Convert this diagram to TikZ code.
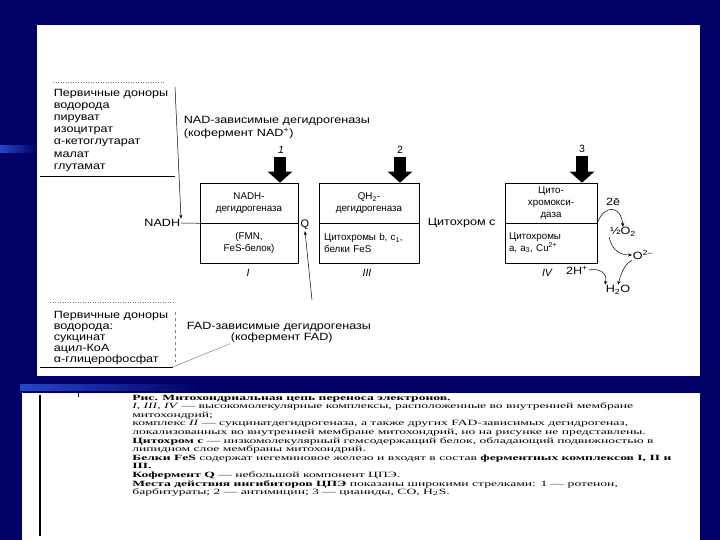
\documentclass[tikz,border=0pt]{standalone}
\usepackage{fontspec}
\usepackage{graphicx}
\setmainfont{Liberation Serif}
\newfontfamily\diagfont{Liberation Sans}
\usetikzlibrary{arrows.meta}
\definecolor{navybg}{RGB}{0,0,104}
\definecolor{streak}{RGB}{40,70,200}
\begin{document}
\begin{tikzpicture}[x=1pt,y=-1pt,
  lbl/.style={font=\diagfont\fontsize{10.5}{12}\selectfont, inner sep=0.5pt, xscale=1.2},
  lst/.style={lbl, anchor=base west},
  boxpart/.style={draw, line width=0.6pt, font=\diagfont\fontsize{9.8}{11.5}\selectfont, align=center, minimum height=40pt, inner sep=2pt},
  romanlbl/.style={font=\diagfont\itshape\fontsize{10.5}{12}\selectfont, inner sep=0.5pt},
  inhib/.style={line width=12pt, -{Triangle[width=24pt,length=11pt]}},
  thinln/.style={line width=0.5pt},
  earrow/.style={line width=0.5pt, -{Stealth[length=4pt,width=3.2pt]}},
  captext/.style={anchor=base west, font=\fontsize{8}{8}\selectfont, inner sep=0pt, xscale=1.7}
]
\useasboundingbox (0,0) rectangle (720,540);
\fill[navybg] (0,0) rectangle (720,540);
\shade[left color=streak, right color=navybg] (0,146) rectangle (37,153);
\shade[left color=streak, right color=navybg] (20,384) rectangle (200,390);
\fill[white] (37,25) rectangle (700,376);
\fill[white] (22,393) rectangle (700,540);

% ---------- upper donor list ----------
\draw[gray, dotted, thinln] (53,82) -- (165,82);
\foreach \t [count=\i] in {Первичные доноры, водорода, пируват, изоцитрат, α-кетоглутарат, малат, глутамат}
  \node[lst] (top\i) at (53,84+12.2*\i) {\t};
\draw[thinln] (40,176) -- (175,176);
\coordinate (topv) at (175,87);

\node[lbl, anchor=west] (nad1) at (183,121) {NAD-зависимые дегидрогеназы};
\node[lbl, anchor=west] (nad2) at (183,133) {(кофермент NAD\textsuperscript{+})};

% ---------- chain ----------
\node[lbl, anchor=east] (nadh) at (181,223) {NADH};

\node[boxpart, minimum width=98pt] (b1t) at (249,203) {NADH-\\дегидрогеназа};
\node[boxpart, minimum width=98pt] (b1b) at (249,243) {(FMN,\\FeS-белок)};
\node[romanlbl] (r1) at (248,273) {I};

\node[font=\diagfont\fontsize{11}{13}\selectfont, inner sep=1pt] (q) at (305,225) {Q};

\node[boxpart, minimum width=100pt] (b3t) at (369,203) {QH\textsubscript{2}-\\дегидрогеназа};
\node[boxpart, minimum width=100pt, text width=90pt, align=left] (b3b) at (369,243) {Цитохромы b, c\textsubscript{1},\\белки FeS};
\node[romanlbl] (r3) at (367,273) {III};

\node[lbl, anchor=west] (cytc) at (427,223) {Цитохром c};

\node[boxpart, minimum width=92pt, font=\diagfont\fontsize{9.8}{12}\selectfont] (b4t) at (551,203) {Цито-\\хромокси-\\даза};
\node[boxpart, minimum width=92pt, text width=84pt, align=left] (b4b) at (551,243) {Цитохромы\\a, a\textsubscript{3}, Cu\textsuperscript{2+}};
\node[romanlbl] (r4) at (547,273) {IV};

% inhibitor labels and arrows
\node[font=\diagfont\itshape\fontsize{10.5}{12}\selectfont] (n1) at (281,150) {1};
\node[font=\diagfont\fontsize{10.5}{12}\selectfont] (n2) at (400,150) {2};
\node[font=\diagfont\fontsize{10.5}{12}\selectfont] (n3) at (582,149) {3};
\coordinate (i1) at (280,157);
\coordinate (i2) at (400,157);
\coordinate (i3) at (582,156);
\draw[inhib] (i1) -- (i1 |- b1t.north);
\draw[inhib] (i2) -- (i2 |- b3t.north);
\draw[inhib] (i3) -- (i3 |- b4t.north);

% connectors
\draw[thinln, -{Stealth[length=4pt,width=3pt]}] (topv) -- (nadh.north east);
\draw[thinln] (nadh.east) -- (b1t.south west);

% oxygen side
\node[lbl] (e2) at (613,202) {2ē};
\node[lbl] (o2) at (623,232) {½O\textsubscript{2}};
\node[lbl] (om) at (643,255) {O\textsuperscript{2–}};
\node[lbl] (hp) at (577,270) {2H\textsuperscript{+}};
\node[lbl] (h2o) at (618,290) {H\textsubscript{2}O};
\draw[earrow] (b4t.south east) .. controls (604,204) and (621,205) .. (o2.north);
\draw[earrow] (o2.south west) .. controls (612,252) and (622,255) .. (om.west);
\draw[earrow] (om.south west) .. controls (626,263) and (622,270) .. (h2o.north);
\draw[earrow] (hp.east) .. controls (598,268) and (608,272) .. (h2o.north west);

% ---------- lower donor list ----------
\draw[gray, dotted, thinln] (50,302) -- (173,302);
\foreach \t [count=\i] in {Первичные доноры, водорода:, сукцинат, ацил-КоА, α-глицерофосфат}
  \node[lst] (bot\i) at (53,307+11*\i) {\t};
\draw[thinln, dashed, gray] (175,312) -- (175,362);
\draw[thinln] (40,367) -- (173,367);
\coordinate (brk) at (173,367);

\node[lbl, anchor=west] (fad1) at (186,327) {FAD-зависимые дегидрогеназы};
\node[lbl, anchor=west] (fad2) at (230,338) {(кофермент FAD)};
\draw[thinln, gray] (brk) -- (fad2.south west);
\coordinate (fadv) at (312,300);
\draw[thinln, -{Stealth[length=4pt,width=3pt]}] (fadv) -- (q.south);

% ---------- caption ----------
\draw[line width=1.4pt] (40,395) -- (40,536);
\draw[thinln] (78,393) -- (78,397);
\node[captext] (c1) at (132,400) {\bfseries Рис. Митохондриальная цепь переноса электронов.};
\node[captext] (c2) at (132,408.6) {\textit{I, III, IV} — высокомолекулярные комплексы, расположенные во внутренней мембране};
\node[captext] (c3) at (132,417.2) {митохондрий;};
\node[captext] (c4) at (132,425.8) {комплекс \textit{II} — сукцинатдегидрогеназа, а также других FAD-зависимых дегидрогеназ,};
\node[captext] (c5) at (132,434.4) {локализованных во внутренней мембране митохондрий, но на рисунке не представлены.};
\node[captext] (c6) at (132,443.0) {\textbf{Цитохром c} — низкомолекулярный гемсодержащий белок, обладающий подвижностью в};
\node[captext] (c7) at (132,451.6) {липидном слое мембраны митохондрий.};
\node[captext] (c8) at (132,460.2) {\textbf{Белки FeS} содержат негеминовое железо и входят в состав \textbf{ферментных комплексов I, II и}};
\node[captext] (c9) at (132,468.8) {\textbf{III.}};
\node[captext] (c10) at (132,477.4) {\textbf{Кофермент Q} — небольшой компонент ЦПЭ.};
\node[captext] (c11) at (132,486.0) {\textbf{Места действия ингибиторов ЦПЭ} показаны широкими стрелками: 1 — ротенон,};
\node[captext] (c12) at (132,494.6) {барбитураты; 2 — антимицин; 3 — цианиды, CO, H\textsubscript{2}S.};
\end{tikzpicture}
\end{document}
